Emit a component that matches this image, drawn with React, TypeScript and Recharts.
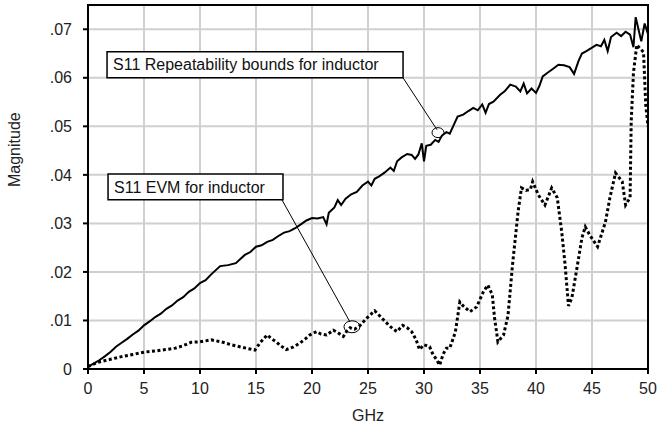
import React from 'react';
import {
  LineChart, Line, XAxis, YAxis, CartesianGrid, ReferenceArea, ReferenceLine, ReferenceDot,
} from 'recharts';

// GHz ticks and magnitude ticks
const X_TICKS = [0, 5, 10, 15, 20, 25, 30, 35, 40, 45, 50];
const Y_TICKS = [0, 0.01, 0.02, 0.03, 0.04, 0.05, 0.06, 0.07];
const Y_LABELS = ['0', '.01', '.02', '.03', '.04', '.05', '.06', '.07'];

// S11 repeatability bounds (solid)
const REP_GHZ = [
  0, 0.5, 1, 1.5, 2, 2.5, 3, 3.5, 4, 4.5, 5, 5.5, 6, 6.5, 7, 7.5, 8, 8.5, 9, 9.5, 10, 10.5, 11,
  11.8, 12.5, 13.2, 14, 14.5, 15, 15.5, 16, 16.5, 17, 17.5, 18, 18.5,
  19, 19.5, 20, 20.5, 21, 21.3, 21.5, 22, 22.3, 22.6, 23, 23.5, 24, 24.5, 25, 25.3, 25.6, 26, 26.5,
  27, 27.3, 27.6, 28, 28.5, 28.9, 29.2, 29.5, 29.8, 30, 30.2, 30.6, 31, 31.3, 31.6, 32, 32.3, 32.7,
  33, 33.5, 34, 34.4, 34.8, 35.2, 35.5, 35.8, 36.2, 36.8, 37.2, 37.7, 38.2, 38.6, 38.9, 39.2, 39.6,
  40, 40.3, 40.6, 41, 41.5, 42, 42.5, 43, 43.4, 43.8, 44.1, 44.5, 45, 45.4, 45.8, 46.1, 46.4, 46.7,
  47.2, 47.6, 48, 48.4, 48.7, 48.9, 49.2, 49.4, 49.7, 50,
];
const REP_MAG = [
  0.0005, 0.0011, 0.0018, 0.0026, 0.0035, 0.0046, 0.0054, 0.0062, 0.0071, 0.0079, 0.009, 0.0098,
  0.0107, 0.0114, 0.0124, 0.0131, 0.0141, 0.0148, 0.0159, 0.0166, 0.0177, 0.0183, 0.0195,
  0.0212, 0.0214, 0.0218, 0.0235, 0.0241, 0.0252, 0.0255, 0.0262, 0.0266, 0.0274, 0.0281, 0.0284,
  0.029, 0.0298, 0.0306, 0.0311, 0.031, 0.0313, 0.0298, 0.0322, 0.0333, 0.0348, 0.0338, 0.0351,
  0.036, 0.0365, 0.0378, 0.0386, 0.0378, 0.0392, 0.0397, 0.0405, 0.0415, 0.0408, 0.0428, 0.0436,
  0.0443, 0.0441, 0.0433, 0.0442, 0.0465, 0.0428, 0.046, 0.0462, 0.0472, 0.0468, 0.0481, 0.0488,
  0.0485, 0.0505, 0.052, 0.0524, 0.0532, 0.0538, 0.0533, 0.0545, 0.0528, 0.0546, 0.0551, 0.0565,
  0.0572, 0.0586, 0.0582, 0.0572, 0.0588, 0.0568, 0.0578, 0.0569, 0.0583, 0.0603, 0.061, 0.0618,
  0.0627, 0.0626, 0.0622, 0.0608, 0.0635, 0.065, 0.0655, 0.0662, 0.0668, 0.0665, 0.0678, 0.0655,
  0.0684, 0.0693, 0.0686, 0.0695, 0.0689, 0.0663, 0.0725, 0.0695, 0.0675, 0.0712, 0.069,
];

// S11 EVM (dotted)
const EVM_GHZ = [
  0, 0.9, 2, 2.9, 4, 5.1, 6, 6.9, 7.8, 8.5, 9.2, 10, 11, 11.9, 12.8, 13.7, 14.9, 15.4, 16, 16.4,
  16.8, 17.2, 17.7, 18.3, 18.9, 19.4, 19.8, 20.4, 20.8, 21.3, 21.9, 22.3, 22.8, 23.1, 23.4, 23.8,
  24.3, 24.9, 25.6, 26.1, 26.7, 27.2, 27.6, 28.1, 28.5, 28.9, 29.3, 29.6, 30, 30.5, 30.8, 31.1,
  31.4, 31.7, 32, 32.3, 32.8, 33.2, 33.5, 34.1, 34.7, 35.3, 35.7, 36.1, 36.3, 36.6, 37.1, 37.5,
  37.9, 38.4, 38.7, 39.1, 39.5, 39.7, 40.2, 40.8, 41.4, 41.9, 42.3, 42.6, 42.9, 43.2, 43.7, 44.1,
  44.4, 44.8, 45.5, 46.2, 46.6, 47.1, 47.7, 48, 48.4, 48.5, 48.7, 49, 49.3, 49.6, 49.8, 50,
];
const EVM_MAG = [
  0.0005, 0.0014, 0.002, 0.0025, 0.003, 0.0035, 0.0037, 0.004, 0.0043, 0.0048, 0.0055, 0.0056,
  0.006, 0.0056, 0.005, 0.0045, 0.0039, 0.0055, 0.007, 0.0062, 0.0056, 0.0048, 0.004, 0.0045,
  0.0053, 0.0062, 0.007, 0.0077, 0.0072, 0.007, 0.008, 0.0075, 0.0067, 0.0078, 0.0085, 0.0082,
  0.009, 0.0105, 0.012, 0.0108, 0.0094, 0.0083, 0.0077, 0.009, 0.0085, 0.0077, 0.006, 0.004, 0.005,
  0.0046, 0.003, 0.002, 0.0008, 0.003, 0.0043, 0.0043, 0.0076, 0.0138, 0.013, 0.0118, 0.0128,
  0.0159, 0.0173, 0.0153, 0.0105, 0.0056, 0.007, 0.011, 0.0214, 0.0324, 0.0373, 0.0368, 0.037,
  0.0386, 0.0359, 0.0338, 0.0373, 0.0353, 0.0282, 0.0214, 0.013, 0.0146, 0.0214, 0.027, 0.0293,
  0.0276, 0.0252, 0.0303, 0.0353, 0.0404, 0.0386, 0.0338, 0.0353, 0.051, 0.061, 0.0668, 0.066,
  0.0653, 0.0544, 0.05,
];

const repData = REP_GHZ.map((x, i) => ({ x, y: REP_MAG[i] }));
const evmData = EVM_GHZ.map((x, i) => ({ x, y: EVM_MAG[i] }));

const FONT = '"Liberation Sans", Arial, sans-serif';

const ellipse = (rx: number, ry: number) => (props: any) => (
  <ellipse cx={props.cx} cy={props.cy} rx={rx} ry={ry} fill="none" stroke="#000" strokeWidth={1} />
);

export default function App() {
  return (
    <div style={{ position: 'absolute', left: 0, top: 0, width: 657, height: 427, background: '#fff' }}>
      <LineChart
        width={657}
        height={427}
        margin={{ top: 5, right: 9, bottom: 18, left: 0 }}
        style={{ fontFamily: FONT }}
      >
        <CartesianGrid stroke="#d0d0d0" strokeWidth={2} horizontalValues={Y_TICKS} verticalValues={X_TICKS} />
        <XAxis
          type="number"
          dataKey="x"
          domain={[0, 50]}
          ticks={X_TICKS}
          allowDataOverflow
          height={40}
          tickSize={5}
          tickMargin={9}
          stroke="#000"
          strokeWidth={2}
          tick={{ fill: '#222', fontSize: 16 }}
          label={{ value: 'GHz', position: 'insideBottom', offset: -12, fill: '#222', fontSize: 16 }}
        />
        <YAxis
          type="number"
          domain={[0, 0.075]}
          ticks={Y_TICKS}
          allowDataOverflow
          width={88}
          tickSize={5}
          tickMargin={11}
          stroke="#000"
          strokeWidth={2}
          tickFormatter={(v: number) => Y_LABELS[Y_TICKS.indexOf(v)] ?? ''}
          tick={{ fill: '#222', fontSize: 16 }}
          label={{ value: 'Magnitude', angle: -90, position: 'insideLeft', offset: 14, fill: '#222', fontSize: 16 }}
        />
        <ReferenceArea x1={0} x2={50} y1={0} y2={0.075} fill="none" stroke="#000" strokeWidth={2} />

        <Line data={evmData} dataKey="y" type="linear" stroke="#000" strokeWidth={3} strokeDasharray="3 2.5"
          dot={false} isAnimationActive={false} />
        <Line data={repData} dataKey="y" type="linear" stroke="#000" strokeWidth={2}
          dot={false} isAnimationActive={false} />

        <ReferenceArea x1={1.7} x2={28.13} y1={0.06} y2={0.06536} fill="#fff" fillOpacity={1} stroke="#000" strokeWidth={1.5}
          label={{ value: 'S11 Repeatability bounds for inductor', position: 'insideLeft', offset: 6, fill: '#111', fontSize: 16 }} />
        <ReferenceLine segment={[{ x: 28.13, y: 0.06 }, { x: 31.16, y: 0.0493 }]} stroke="#000" strokeWidth={1} />
        <ReferenceDot x={31.25} y={0.0487} shape={ellipse(6, 5)} />

        <ReferenceArea x1={1.79} x2={17.41} y1={0.03485} y2={0.0402} fill="#fff" fillOpacity={1} stroke="#000" strokeWidth={1.5}
          label={{ value: 'S11 EVM for inductor', position: 'insideLeft', offset: 6, fill: '#111', fontSize: 16 }} />
        <ReferenceLine segment={[{ x: 17.32, y: 0.03485 }, { x: 23.39, y: 0.0097 }]} stroke="#000" strokeWidth={1} />
        <ReferenceDot x={23.57} y={0.0087} shape={ellipse(8, 6)} />
      </LineChart>
    </div>
  );
}
